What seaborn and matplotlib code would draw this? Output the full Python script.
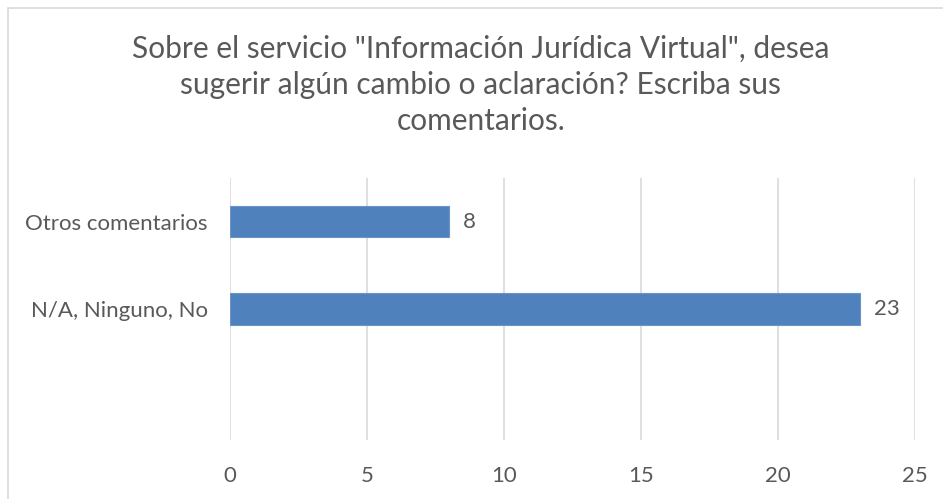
import matplotlib
matplotlib.use("Agg")
import matplotlib.pyplot as plt
import seaborn as sns
import pandas as pd
from matplotlib.patches import Rectangle

# Data
categories = ["Otros comentarios", "N/A, Ninguno, No"]
values = [8, 23]
x_ticks = [0, 5, 10, 15, 20, 25]
title = 'Sobre el servicio "Información Jurídica Virtual", desea\nsugerir algún cambio o aclaración? Escriba sus\ncomentarios.'

df = pd.DataFrame({"cat": categories, "val": values})

sns.set_theme(style="white")
plt.rcParams["font.family"] = ["Lato", "DejaVu Sans"]
text_color = "#595959"

fig = plt.figure(figsize=(9.43, 4.99), dpi=100)
ax = fig.add_axes([230 / 943, 59 / 499, 685 / 943, 262 / 499])

sns.barplot(data=df, x="val", y="cat", order=categories, orient="h",
            color="#4F81BD", saturation=1, width=0.355,
            edgecolor="#6A94C8", linewidth=0.8, ax=ax, zorder=3)

# keep an empty third slot at the bottom like the original
ax.set_ylim(2.5, -0.5)
ax.set_xlim(0, 25)
ax.set_xticks(x_ticks)
ax.grid(axis="x", color="#D9D9D9", linewidth=1.2, zorder=0)
ax.grid(axis="y", visible=False)
for s in ax.spines.values():
    s.set_visible(False)
ax.set_xlabel("")
ax.set_ylabel("")
ax.tick_params(axis="both", length=0, labelsize=16, colors=text_color)
ax.tick_params(axis="y", pad=16)
ax.tick_params(axis="x", pad=19)

ax.bar_label(ax.containers[0], padding=10, fontsize=16, color=text_color)

fig.text(0.51, 0.83, title, ha="center", va="center", fontsize=21.5,
         color=text_color, linespacing=1.36)

# chart border (only top and left edges fall inside the image)
fig.patches.append(Rectangle((8 / 943, -20 / 499), 960 / 943, 511 / 499,
                             transform=fig.transFigure, fill=False,
                             edgecolor="#D9D9D9", linewidth=1.2))

fig.savefig("out.png", dpi=100)
